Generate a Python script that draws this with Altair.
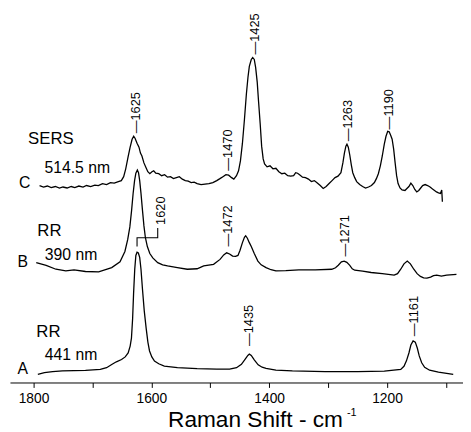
import altair as alt
import pandas as pd

FONT = "Liberation Sans, Arial, Helvetica, sans-serif"

# ---- Trace A : RR 441 nm ----
A_WN = [1792.7, 1781.5, 1767.6, 1750.9, 1711.8, 1686.7, 1676.0, 1667.3, 1659.4, 1650.6, 1644.4, 1639.4,
        1636.0, 1633.8, 1631.8, 1630.2, 1628.2, 1626.3, 1624.3, 1622.1, 1619.8, 1617.6, 1615.1, 1612.1,
        1608.8, 1605.9, 1603.1, 1599.2, 1594.7, 1587.5, 1578.0, 1555.8, 1522.3, 1488.9, 1467.2, 1455.4,
        1447.1, 1440.4, 1436.2, 1433.7, 1430.4, 1425.3, 1418.7, 1412.0, 1405.3, 1388.6, 1360.6, 1305.0,
        1249.8, 1204.6, 1176.7, 1171.2, 1167.0, 1162.8, 1159.5, 1155.7, 1152.0, 1148.6, 1145.3, 1141.1,
        1136.1, 1127.7, 1112.7, 1087.6]
A_I = [8.3, 10, 11, 11.7, 12.3, 13.3, 15, 18.3, 21, 23.3, 26, 30,
       37, 45, 65, 90, 115, 129, 132.3, 131.5, 127, 115, 95, 73,
       55, 41, 32, 26, 21.7, 19, 16.7, 15, 14, 13.5, 13.5, 15,
       18.5, 24, 27.5, 28.8, 27.5, 23, 18, 15.5, 14.3, 12.5, 11.7, 11,
       11, 11.5, 13.3, 16.5, 22, 30, 38, 42.3, 41, 35, 27, 20,
       15.5, 12.5, 10.5, 8.3]

# ---- Trace B : RR 390 nm ----
B_WN = [1795.4, 1778.6, 1762.0, 1745.2, 1731.3, 1711.8, 1689.5, 1667.3, 1653.2, 1644.9, 1640.2, 1636.5,
        1633.5, 1631.0, 1628.5, 1626.3, 1623.8, 1621.8, 1619.8, 1617.6, 1615.1, 1612.6, 1610.1, 1606.8,
        1602.6, 1597.6, 1589.2, 1580.8, 1572.5, 1555.8, 1539.0, 1522.3, 1511.1, 1494.4, 1483.4, 1477.2,
        1472.2, 1467.2, 1462.1, 1457.1, 1453.0, 1449.6, 1445.4, 1442.0, 1439.9, 1437.0, 1433.7, 1430.4,
        1425.3, 1419.2, 1413.6, 1405.3, 1396.9, 1388.6, 1371.8, 1349.6, 1321.7, 1293.8, 1287.4, 1282.7,
        1277.4, 1272.7, 1268.2, 1263.2, 1259.0, 1254.8, 1241.4, 1226.9, 1208.0, 1187.9, 1182.1, 1176.7,
        1171.2, 1165.6, 1160.3, 1154.5, 1148.9, 1143.3, 1137.8, 1132.2, 1126.0, 1121.0, 1115.5, 1107.7,
        1098.8, 1082.1]
B_I = [121.7, 119, 115, 113.3, 114.3, 112.7, 112.3, 116.7, 122.5, 133, 145, 158,
       175, 191.7, 205, 212.5, 215.7, 213, 205, 192, 175, 159, 147, 138,
       131, 126.5, 121.7, 119.5, 118.3, 116.7, 115, 115.5, 118.5, 120, 125, 129.5,
       131.7, 130.5, 128.3, 128, 129, 134, 142, 147.5, 149, 146.5, 142, 138,
       131, 123.3, 119.5, 116.7, 114.5, 113.3, 113.5, 114.3, 114.3, 115, 116.5, 119,
       122.5, 123.3, 122, 119, 115.5, 114, 113, 111.7, 110.5, 109, 110.5, 115,
       120.5, 123.3, 120.5, 115, 110.5, 107.7, 106.2, 106, 107, 108.5, 109, 108,
       109, 109.7]

# ---- Trace C : SERS 514.5 nm ----
C_WN = [1789.8, 1783.0, 1776.5, 1770.0, 1763.0, 1756.0, 1750.0, 1743.0, 1736.0, 1730.0, 1723.0, 1716.0,
        1710.0, 1703.0, 1696.0, 1690.0, 1683.0, 1676.0, 1669.5, 1663.0, 1656.0, 1651.0, 1647.0, 1643.5,
        1639.5, 1636.0, 1632.7, 1630.0, 1627.7, 1624.3, 1621.0, 1618.5, 1616.0, 1612.6, 1609.0, 1606.0,
        1602.6, 1599.0, 1596.0, 1592.5, 1587.5, 1582.5, 1577.5, 1572.5, 1567.5, 1562.5, 1557.5, 1552.5,
        1547.4, 1542.4, 1537.4, 1532.4, 1527.3, 1522.3, 1515.6, 1509.0, 1502.3, 1495.6, 1489.0, 1483.6,
        1478.5, 1473.5, 1468.8, 1463.8, 1460.0, 1455.5, 1452.0, 1448.8, 1445.4, 1442.0, 1438.7, 1436.0,
        1433.7, 1430.4, 1428.0, 1425.3, 1423.0, 1420.3, 1418.0, 1415.3, 1412.8, 1410.2, 1407.8, 1403.6,
        1398.6, 1393.6, 1388.6, 1383.6, 1378.5, 1373.5, 1368.5, 1363.5, 1358.5, 1355.0, 1351.8, 1348.4,
        1343.4, 1338.4, 1333.4, 1328.4, 1323.3, 1318.3, 1313.3, 1308.3, 1303.3, 1298.3, 1293.3, 1288.2,
        1283.2, 1278.2, 1274.9, 1272.3, 1269.8, 1268.0, 1265.7, 1263.2, 1260.6, 1258.1, 1254.8, 1251.5,
        1246.4, 1241.4, 1236.4, 1231.4, 1226.4, 1221.4, 1218.0, 1214.7, 1211.3, 1208.0, 1204.6, 1201.7,
        1198.8, 1196.3, 1193.8, 1191.3, 1188.7, 1186.2, 1183.7, 1181.2, 1177.9, 1174.5, 1169.5, 1166.2,
        1162.8, 1159.5, 1156.2, 1152.8, 1149.5, 1146.1, 1142.8, 1139.5, 1135.3, 1131.1, 1126.9, 1122.7,
        1119.3, 1116.0, 1112.6, 1109.3, 1107.1, 1106.0]
C_I = [200, 198.5, 199.5, 198, 199, 197.5, 198.5, 197.5, 199, 198, 199.5, 198.5,
       200, 199, 200.5, 200, 202, 201, 203, 202.5, 204, 205, 209, 217,
       229, 239, 247, 250, 248, 243, 239, 233, 230, 223, 218, 214,
       212, 214, 215, 212.5, 212, 210, 211, 208.5, 209, 207, 208, 209,
       206.5, 205, 204.5, 203, 203.5, 202, 201, 201.5, 202, 203, 205, 207,
       209, 211, 210.5, 208, 206.5, 210, 215, 225, 243, 267, 293, 310,
       321, 328, 330, 328, 320, 305, 285, 263, 240, 227, 222, 219,
       220, 217, 217.5, 214, 212, 212.5, 210, 209.5, 210, 213, 212.5, 211,
       208.5, 208, 206.5, 204, 205, 202.5, 200, 197, 199, 202, 205, 208,
       209.5, 213, 223, 233, 240, 242, 239, 231, 221, 213, 208, 204,
       201, 199, 197.5, 198.5, 200, 203, 207, 212, 220, 230, 242, 250,
       255, 254.5, 251, 247, 237, 223, 210, 202, 197.5, 195.5, 195, 197,
       199, 202.5, 200, 196, 193.5, 195, 197.5, 200, 201, 200, 198.5, 196.5,
       195, 193.5, 192.5, 192, 195.5, 183.5]

# ---- Peak annotations ----
PEAK_TEXT = ["\u20141625", "\u20141470", "\u20141425", "\u20141263", "\u20141190",
             "1620", "\u20141472", "\u20141271", "\u20141435", "\u20141161"]
PEAK_WN = [1626.8, 1470.5, 1424.8, 1266.5, 1196.3, 1584.2, 1469.3, 1271.5, 1433.7, 1154.5]
PEAK_Y = [253, 215, 333, 245, 257, 160, 138, 128, 37, 47]

# bracket for the 1620 band
BR_WN = [1624.3, 1624.3, 1589.2, 1589.2]
BR_Y = [138, 147, 147, 157]

# ---- Trace letters (A, B, C) ----
LET_TEXT = ["C", "B", "A"]
LET_WN = [1814.9, 1818.3, 1818.3]
LET_Y = [202, 122.5, 13.5]

# ---- Trace descriptions ----
DESC_TEXT = ["SERS", "514.5 nm", "RR", "390 nm", "RR", "441 nm"]
DESC_WN = [1770.6, 1725.8, 1773.1, 1736.3, 1774.8, 1736.3]
DESC_Y = [247, 217.5, 153.5, 129, 51.5, 27.5]
DESC_SIZE = [17, 16, 17, 16, 17, 16]

rows = []
for name, wn, iy in (("A", A_WN, A_I), ("B", B_WN, B_I), ("C", C_WN, C_I)):
    for w, v in zip(wn, iy):
        rows.append({"series": name, "wn": w, "y": v})
spectra = pd.DataFrame(rows)

peaks = pd.DataFrame({"text": PEAK_TEXT, "wn": PEAK_WN, "y": PEAK_Y})
bracket = pd.DataFrame({"wn": BR_WN, "y": BR_Y, "i": list(range(len(BR_WN)))})
letters = pd.DataFrame({"text": LET_TEXT, "wn": LET_WN, "y": LET_Y})
desc = pd.DataFrame({"text": DESC_TEXT, "wn": DESC_WN, "y": DESC_Y, "size": DESC_SIZE})
sup = pd.DataFrame({"text": ["-1"], "wn": [1268.0], "y": [-34]})

xscale = alt.Scale(domain=[1071, 1840], reverse=True, nice=False, zero=False)
yscale = alt.Scale(domain=[0, 377], nice=False, zero=False)

xaxis = alt.Axis(
    values=[1800, 1700, 1600, 1500, 1400, 1300, 1200, 1100],
    format="d",
    labelExpr="datum.value % 200 == 0 ? datum.label : ''",
    grid=False, domainColor="black", domainWidth=1,
    tickColor="black", tickWidth=1, tickSize=5,
    labelFont=FONT, labelFontSize=14, labelColor="black", labelPadding=4,
    labelOverlap=False, labelFlush=False,
    title="Raman Shift - cm", titleFont=FONT, titleFontSize=23,
    titleFontWeight="normal", titleColor="black",
    titleAlign="left", titleAnchor="start", titleBaseline="alphabetic",
    titleX=160, titleY=45,
)

lines = alt.Chart(spectra).mark_line(color="black", strokeWidth=1.3).encode(
    x=alt.X("wn:Q", scale=xscale, axis=xaxis),
    y=alt.Y("y:Q", scale=yscale, axis=None),
    detail="series:N",
)

br = alt.Chart(bracket).mark_line(color="black", strokeWidth=1.1).encode(
    x=alt.X("wn:Q", scale=xscale),
    y=alt.Y("y:Q", scale=yscale),
    order="i:Q",
)

peak_text = alt.Chart(peaks).mark_text(
    angle=270, align="left", baseline="middle", font=FONT, fontSize=13, color="black"
).encode(
    x=alt.X("wn:Q", scale=xscale),
    y=alt.Y("y:Q", scale=yscale),
    text="text:N",
)

let_text = alt.Chart(letters).mark_text(
    align="center", baseline="middle", font=FONT, fontSize=16, color="black"
).encode(
    x=alt.X("wn:Q", scale=xscale),
    y=alt.Y("y:Q", scale=yscale),
    text="text:N",
)

desc_text = alt.Chart(desc).mark_text(
    align="center", baseline="middle", font=FONT, color="black"
).encode(
    x=alt.X("wn:Q", scale=xscale),
    y=alt.Y("y:Q", scale=yscale),
    text="text:N",
    size=alt.Size("size:Q", scale=None, legend=None),
)

sup_text = alt.Chart(sup).mark_text(
    align="left", baseline="alphabetic", font=FONT, fontSize=11, color="black"
).encode(
    x=alt.X("wn:Q", scale=xscale),
    y=alt.Y("y:Q", scale=yscale),
    text="text:N",
)

chart = alt.layer(lines, br, peak_text, let_text, desc_text, sup_text).properties(
    width=460, height=377,
    autosize=alt.AutoSizeParams(type="none"),
    padding={"left": 2, "top": 0, "right": 0, "bottom": 47},
).configure_view(stroke=None)

chart.save("out.html", embed_options={"renderer": "svg", "actions": False})
